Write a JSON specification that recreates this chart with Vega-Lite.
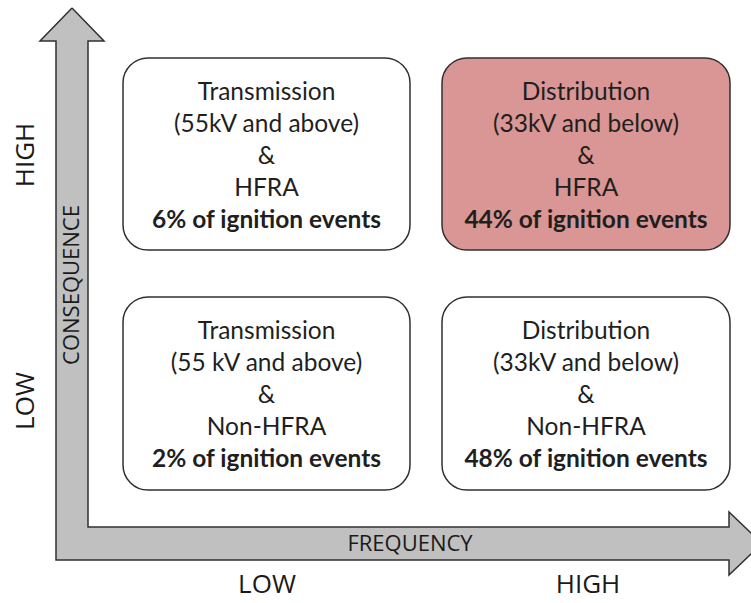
{
  "$schema": "https://vega.github.io/schema/vega-lite/v6.json",
  "width": 751,
  "height": 603,
  "autosize": {"type": "none"},
  "padding": 0,
  "background": "white",
  "config": {"view": {"stroke": null}},
  "datasets": {
    "arrow": [
      {"i": 0, "x": 72, "y": 8},
      {"i": 1, "x": 104, "y": 41},
      {"i": 2, "x": 88, "y": 41},
      {"i": 3, "x": 88, "y": 527},
      {"i": 4, "x": 729, "y": 527},
      {"i": 5, "x": 729, "y": 512},
      {"i": 6, "x": 762, "y": 543.5},
      {"i": 7, "x": 729, "y": 575},
      {"i": 8, "x": 729, "y": 560},
      {"i": 9, "x": 56, "y": 560},
      {"i": 10, "x": 56, "y": 41},
      {"i": 11, "x": 40, "y": 41},
      {"i": 12, "x": 72, "y": 8}
    ],
    "boxes": [
      {"box": "Transmission / HFRA", "x": 123, "x2": 410, "y": 58, "y2": 250, "risk": "normal"},
      {"box": "Distribution / HFRA", "x": 442, "x2": 730, "y": 58, "y2": 250, "risk": "highest"},
      {"box": "Transmission / Non-HFRA", "x": 123, "x2": 410, "y": 297, "y2": 490, "risk": "normal"},
      {"box": "Distribution / Non-HFRA", "x": 442, "x2": 730, "y": 297, "y2": 490, "risk": "normal"}
    ],
    "lines": [
      {"x": 266.5, "y": 100, "text": "Transmission", "bold": false},
      {"x": 266.5, "y": 132, "text": "(55kV and above)", "bold": false},
      {"x": 266.5, "y": 164, "text": "&", "bold": false},
      {"x": 266.5, "y": 196, "text": "HFRA", "bold": false},
      {"x": 266.5, "y": 228, "text": "6% of ignition events", "bold": true},
      {"x": 586, "y": 100, "text": "Distribution", "bold": false},
      {"x": 586, "y": 132, "text": "(33kV and below)", "bold": false},
      {"x": 586, "y": 164, "text": "&", "bold": false},
      {"x": 586, "y": 196, "text": "HFRA", "bold": false},
      {"x": 586, "y": 228, "text": "44% of ignition events", "bold": true},
      {"x": 266.5, "y": 339, "text": "Transmission", "bold": false},
      {"x": 266.5, "y": 371, "text": "(55 kV and above)", "bold": false},
      {"x": 266.5, "y": 403, "text": "&", "bold": false},
      {"x": 266.5, "y": 435, "text": "Non-HFRA", "bold": false},
      {"x": 266.5, "y": 467, "text": "2% of ignition events", "bold": true},
      {"x": 586, "y": 339, "text": "Distribution", "bold": false},
      {"x": 586, "y": 371, "text": "(33kV and below)", "bold": false},
      {"x": 586, "y": 403, "text": "&", "bold": false},
      {"x": 586, "y": 435, "text": "Non-HFRA", "bold": false},
      {"x": 586, "y": 467, "text": "48% of ignition events", "bold": true}
    ],
    "vlabels": [
      {"x": 26, "y": 155, "text": "HIGH", "kind": "level"},
      {"x": 26, "y": 401, "text": "LOW", "kind": "level"},
      {"x": 72, "y": 285, "text": "CONSEQUENCE", "kind": "axis"}
    ],
    "hlabels": [
      {"x": 410, "y": 544, "text": "FREQUENCY", "kind": "axis"},
      {"x": 267, "y": 585, "text": "LOW", "kind": "level"},
      {"x": 588, "y": 585, "text": "HIGH", "kind": "level"}
    ]
  },
  "layer": [
    {
      "data": {"name": "arrow"},
      "mark": {"type": "line", "fill": "#c0c0c0", "stroke": "#303030", "strokeWidth": 1.5, "strokeJoin": "miter", "clip": false},
      "encoding": {
        "x": {"field": "x", "type": "quantitative", "scale": {"domain": [0, 751], "nice": false, "zero": false}, "axis": null},
        "y": {"field": "y", "type": "quantitative", "scale": {"domain": [0, 603], "nice": false, "zero": false, "reverse": true}, "axis": null},
        "order": {"field": "i", "type": "quantitative"}
      }
    },
    {
      "data": {"name": "boxes"},
      "mark": {"type": "rect", "cornerRadius": 25, "stroke": "#303030", "strokeWidth": 1.5},
      "encoding": {
        "x": {"field": "x", "type": "quantitative"},
        "x2": {"field": "x2"},
        "y": {"field": "y", "type": "quantitative"},
        "y2": {"field": "y2"},
        "fill": {"field": "risk", "type": "nominal", "scale": {"domain": ["normal", "highest"], "range": ["#ffffff", "#d99694"]}, "legend": null}
      }
    },
    {
      "data": {"name": "lines"},
      "transform": [{"filter": "!datum.bold"}],
      "mark": {"type": "text", "font": "Lato", "fontSize": 24.5, "color": "#1f1f1f", "align": "center", "baseline": "alphabetic"},
      "encoding": {
        "x": {"field": "x", "type": "quantitative"},
        "y": {"field": "y", "type": "quantitative"},
        "text": {"field": "text"}
      }
    },
    {
      "data": {"name": "lines"},
      "transform": [{"filter": "datum.bold"}],
      "mark": {"type": "text", "font": "Lato", "fontSize": 24.5, "fontWeight": "bold", "color": "#1f1f1f", "align": "center", "baseline": "alphabetic"},
      "encoding": {
        "x": {"field": "x", "type": "quantitative"},
        "y": {"field": "y", "type": "quantitative"},
        "text": {"field": "text"}
      }
    },
    {
      "data": {"name": "vlabels"},
      "mark": {"type": "text", "font": "Open Sans", "angle": 270, "align": "center", "baseline": "middle", "color": "#1a1a1a"},
      "encoding": {
        "x": {"field": "x", "type": "quantitative"},
        "y": {"field": "y", "type": "quantitative"},
        "text": {"field": "text"},
        "size": {"field": "kind", "type": "nominal", "scale": {"domain": ["level", "axis"], "range": [26, 22]}, "legend": null}
      }
    },
    {
      "data": {"name": "hlabels"},
      "mark": {"type": "text", "font": "Open Sans", "align": "center", "baseline": "middle", "color": "#1a1a1a"},
      "encoding": {
        "x": {"field": "x", "type": "quantitative"},
        "y": {"field": "y", "type": "quantitative"},
        "text": {"field": "text"},
        "size": {"field": "kind", "type": "nominal", "scale": {"domain": ["level", "axis"], "range": [25, 22]}, "legend": null}
      }
    }
  ]
}
